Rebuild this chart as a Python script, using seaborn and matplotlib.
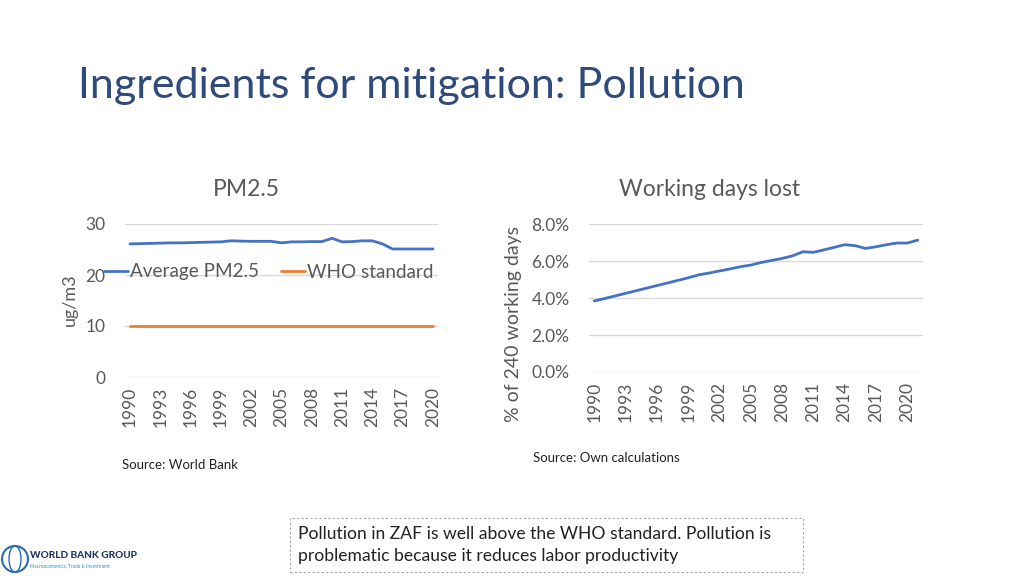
import matplotlib

matplotlib.use("Agg")
import matplotlib.pyplot as plt
import pandas as pd
import seaborn as sns
from matplotlib.patches import Ellipse, Rectangle
from matplotlib.ticker import PercentFormatter

# ── Data ─────────────────────────────────────────────────────────────────────
pm_years = list(range(1990, 2021))
pm_average = [
    26.1, 26.15, 26.2, 26.25, 26.3, 26.3, 26.35, 26.4, 26.45, 26.5,
    26.7, 26.65, 26.6, 26.6, 26.6, 26.3, 26.5, 26.5, 26.55, 26.55,
    27.2, 26.5, 26.55, 26.7, 26.7, 26.1, 25.1, 25.1, 25.1, 25.1, 25.1,
]
who_standard = [10] * len(pm_years)

wd_years = list(range(1990, 2022))
wd_lost = [
    0.0384, 0.0397, 0.0411, 0.0425, 0.0439, 0.0453, 0.0467, 0.0481, 0.0495, 0.0509,
    0.0525, 0.0535, 0.0546, 0.0557, 0.0569, 0.0578, 0.0592, 0.0603, 0.0614, 0.0628,
    0.0650, 0.0647, 0.0660, 0.0674, 0.0688, 0.0683, 0.0668, 0.0677, 0.0688, 0.0697,
    0.0697, 0.0713,
]

pm_ticks = list(range(1990, 2021, 3))
pm_yticks = [0, 10, 20, 30]
wd_yticks = [0.0, 0.02, 0.04, 0.06, 0.08]

BLUE = "#4472C4"
ORANGE = "#ED7D31"
GRAY = "#595959"
GRID = "#D9D9D9"

sns.set_theme(style="white")
plt.rcParams["font.family"] = ["Lato", "DejaVu Sans"]

pm_df = pd.DataFrame({"year": pm_years, "avg": pm_average, "who": who_standard})
wd_df = pd.DataFrame({"year": wd_years, "lost": wd_lost})

fig = plt.figure(figsize=(10.24, 5.76), dpi=100)


def fx(px):
    return px / 1024


def fy(py):
    return 1 - py / 576


fig.text(fx(78), fy(86), "Ingredients for mitigation: Pollution",
         fontsize=31, color="#2F4B7C", va="center", ha="left")


def style_axes(ax):
    for s in ax.spines.values():
        s.set_visible(False)
    ax.grid(axis="y", color=GRID, linewidth=1)
    ax.grid(axis="x", visible=False)
    ax.tick_params(axis="both", length=0, colors=GRAY, labelsize=12.5)
    ax.tick_params(axis="x", labelrotation=90, pad=7)
    ax.tick_params(axis="y", pad=14)
    ax.set_xlabel("")
    ax.set_ylabel("")


# ── Left: PM2.5 ──────────────────────────────────────────────────────────────
ax1 = fig.add_axes([fx(125), fy(377), fx(313), 153 / 576])
sns.lineplot(data=pm_df, x="year", y="avg", color=BLUE, linewidth=2, ax=ax1,
             label="Average PM2.5")
sns.lineplot(data=pm_df, x="year", y="who", color=ORANGE, linewidth=2, ax=ax1,
             label="WHO standard")
ax1.set_xlim(1989.5, 2020.5)
ax1.set_ylim(0, 30)
ax1.set_xticks(pm_ticks)
ax1.set_yticks(pm_yticks)
style_axes(ax1)
fig.text(fx(70), fy(300), "ug/m3", rotation=90, color=GRAY, fontsize=13,
         ha="center", va="center")
fig.text(fx(246), fy(189), "PM2.5", color=GRAY, fontsize=16.5, ha="center", va="center")
ax1.legend(loc="center left", bbox_to_anchor=(fx(104), fy(272)),
           bbox_transform=fig.transFigure, ncol=2, frameon=False, fontsize=13.6,
           handlelength=1.25, handletextpad=0.1, columnspacing=1.2, borderpad=0,
           borderaxespad=0, labelcolor=GRAY)

# ── Right: working days lost ────────────────────────────────────────────────
ax2 = fig.add_axes([fx(589), fy(372), fx(334), 148 / 576])
sns.lineplot(data=wd_df, x="year", y="lost", color=BLUE, linewidth=2, ax=ax2)
ax2.set_xlim(1989.5, 2021.5)
ax2.set_ylim(0, 0.08)
ax2.set_xticks(pm_ticks)
ax2.set_yticks(wd_yticks)
ax2.yaxis.set_major_formatter(PercentFormatter(xmax=1, decimals=1))
style_axes(ax2)
fig.text(fx(513), fy(324), "% of 240 working days", rotation=90, color=GRAY,
         fontsize=14, ha="center", va="center")
fig.text(fx(710), fy(189), "Working days lost", color=GRAY, fontsize=16.5,
         ha="center", va="center")

# ── Sources, note box, logo ──────────────────────────────────────────────────
fig.text(fx(122), fy(465), "Source: World Bank", fontsize=9.5, color="#222222", va="center")
fig.text(fx(533), fy(458), "Source: Own calculations", fontsize=9.5, color="#222222",
         va="center")

fig.patches.append(Rectangle((fx(290), fy(572)), fx(513), 54 / 576,
                             transform=fig.transFigure, fill=False,
                             edgecolor="#A6A6A6", linestyle=(0, (2, 2)), linewidth=0.8))
fig.text(fx(298), fy(545),
         "Pollution in ZAF is well above the WHO standard. Pollution is\n"
         "problematic because it reduces labor productivity",
         fontsize=12.6, color="#222222", va="center", linespacing=1.4)

fig.patches.append(Ellipse((fx(15), fy(559)), fx(26), 26 / 576, transform=fig.transFigure,
                           fill=False, edgecolor="#2B6CB0", linewidth=1.5))
fig.patches.append(Ellipse((fx(15), fy(559)), fx(12), 26 / 576, transform=fig.transFigure,
                           fill=False, edgecolor="#2B6CB0", linewidth=1.0))
fig.text(fx(30), fy(556), "WORLD BANK GROUP", fontsize=7.2, fontweight="black",
         color="#1F3864", va="center")
fig.text(fx(30), fy(566), "Macroeconomics, Trade & Investment", fontsize=3.4,
         color="#2B8CD6", va="center")

fig.savefig("out.png", dpi=100)
